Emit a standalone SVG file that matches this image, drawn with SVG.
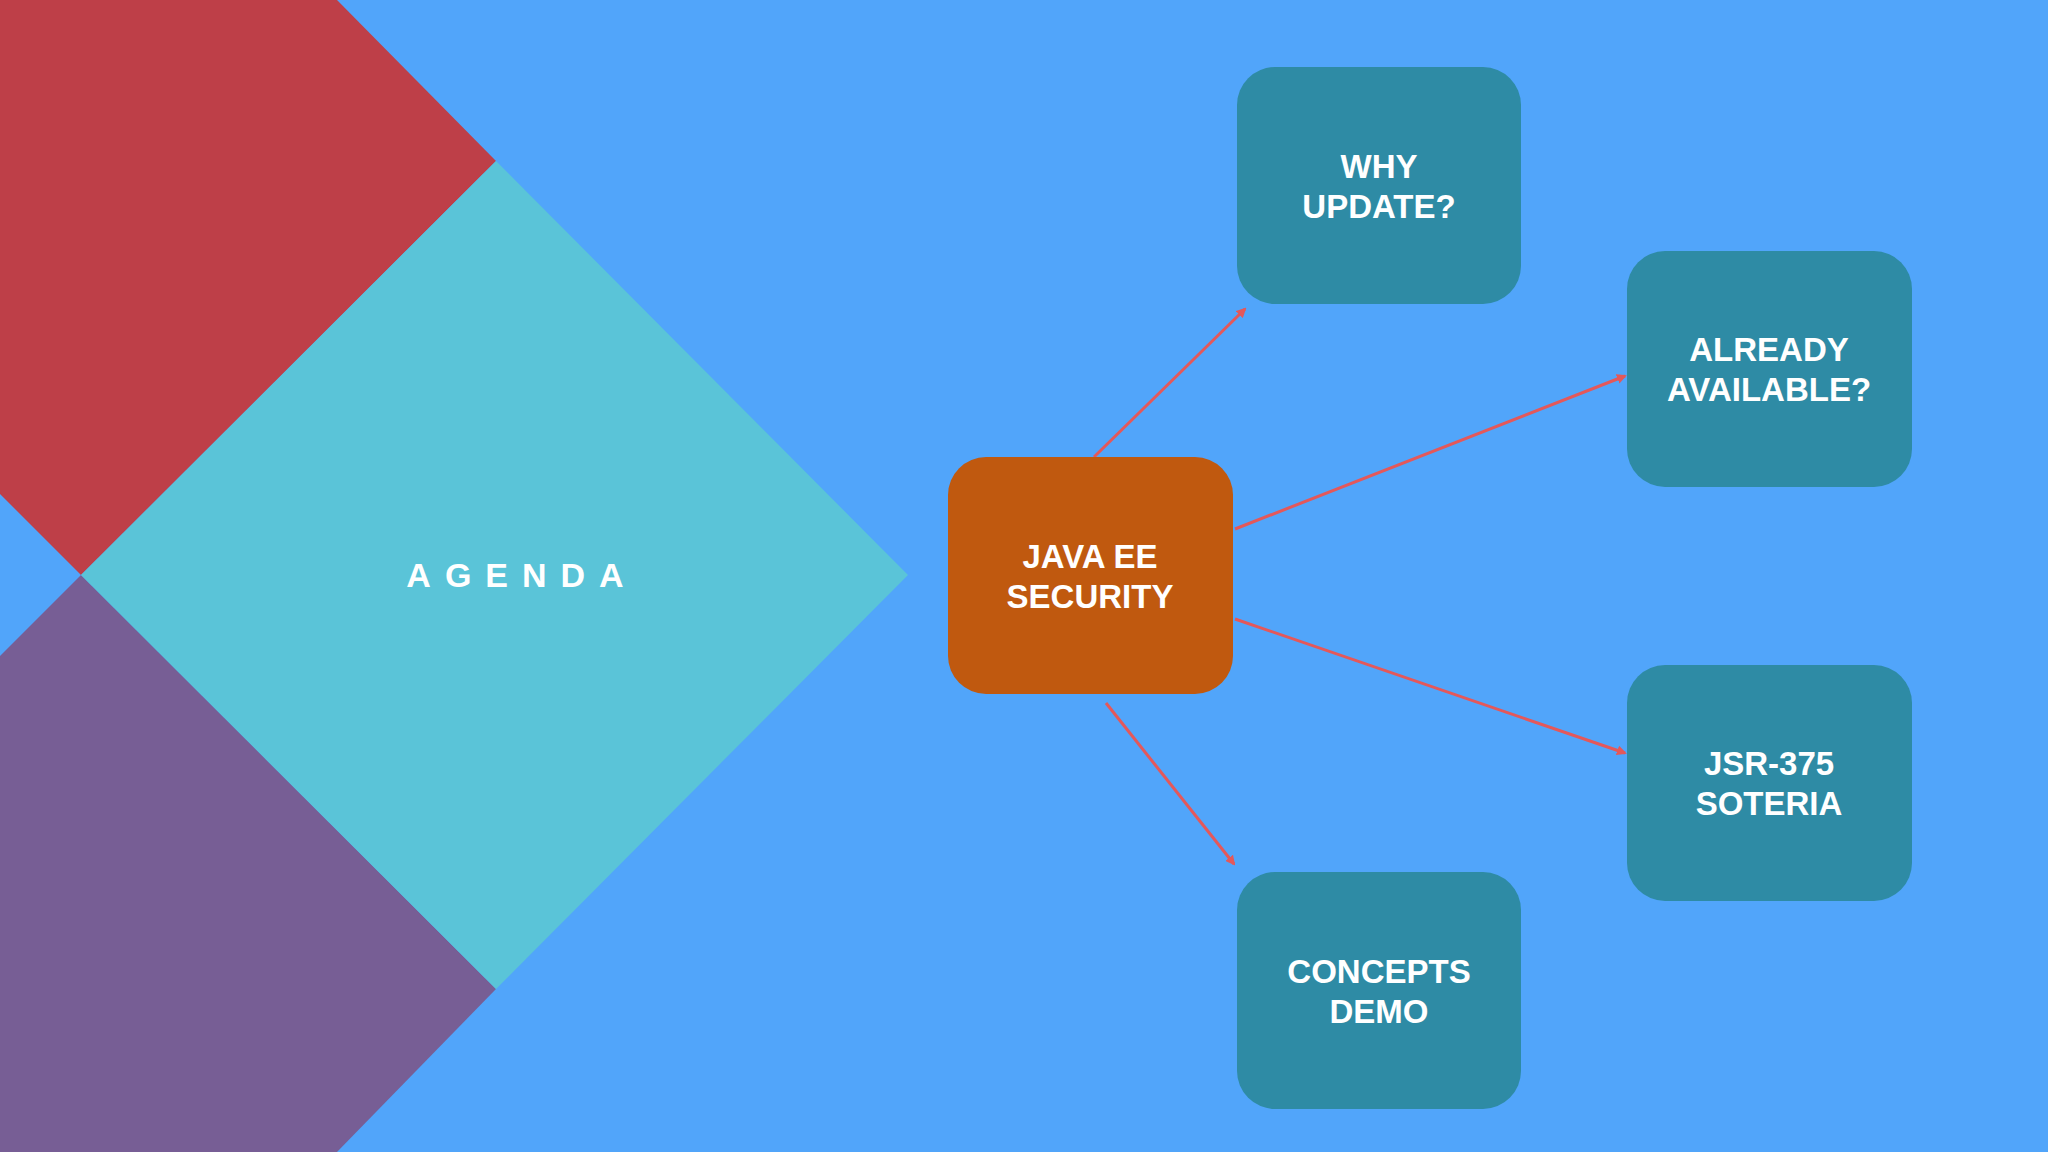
<svg xmlns="http://www.w3.org/2000/svg" width="2048" height="1152" viewBox="0 0 2048 1152">
<style>
.n{fill:#2E8BA5}
.t{font-family:"Liberation Sans",Arial,sans-serif;font-weight:bold;font-size:33px;fill:#fff;text-anchor:middle;dominant-baseline:central}
.c{stroke:#E4585A;stroke-width:3;fill:none;marker-end:url(#a)}
</style>
<defs><marker id="a" markerWidth="10" markerHeight="10" refX="8" refY="5" orient="auto" markerUnits="userSpaceOnUse" viewBox="0 0 10 10"><path d="M0,0L10,5L0,10z" fill="#E4585A" transform="scale(1)"/></marker></defs>
<rect width="2048" height="1152" fill="#51A5FA"/>
<polygon points="0,0 337,0 496,161 81,575 0,494" fill="#BE3F48"/>
<polygon points="81,575 496,989 337,1152 0,1152 0,656" fill="#775E95"/>
<polygon points="496,161 908,575 496,989 81,575" fill="#5AC4D8"/>
<text x="522" y="575" class="t" style="font-size:34px;letter-spacing:14px">AGENDA</text>
<g id="connectors">
<line class="c" x1="1094" y1="457" x2="1245" y2="309"/>
<line class="c" x1="1235" y1="529" x2="1625" y2="376"/>
<line class="c" x1="1235" y1="619" x2="1625" y2="753"/>
<line class="c" x1="1106" y1="703" x2="1234" y2="864"/>
</g>
<g id="java"><rect x="948" y="457" width="285" height="237" rx="38" fill="#C0590F"/><text class="t" x="1090" y="556">JAVA EE</text><text class="t" x="1090" y="596">SECURITY</text></g>
<g id="why"><rect class="n" x="1237" y="67" width="284" height="237" rx="38"/><text class="t" x="1379" y="166">WHY</text><text class="t" x="1379" y="206">UPDATE?</text></g>
<g id="already"><rect class="n" x="1627" y="251" width="285" height="236" rx="38"/><text class="t" x="1769" y="349">ALREADY</text><text class="t" x="1769" y="389">AVAILABLE?</text></g>
<g id="jsr"><rect class="n" x="1627" y="665" width="285" height="236" rx="38"/><text class="t" x="1769" y="763">JSR-375</text><text class="t" x="1769" y="803">SOTERIA</text></g>
<g id="concepts"><rect class="n" x="1237" y="872" width="284" height="237" rx="38"/><text class="t" x="1379" y="971">CONCEPTS</text><text class="t" x="1379" y="1011">DEMO</text></g>
</svg>
